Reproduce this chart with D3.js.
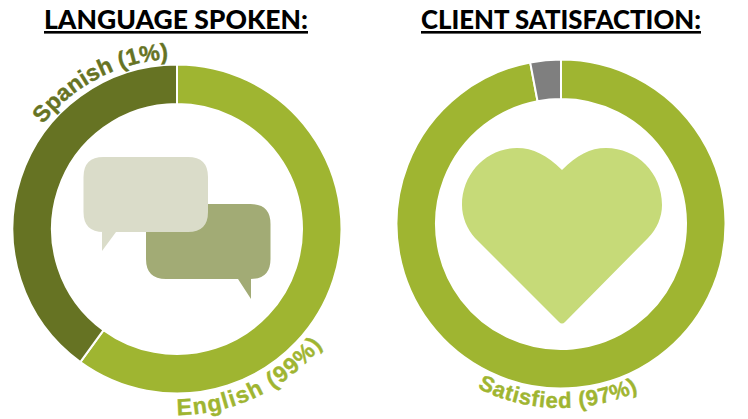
<!DOCTYPE html>
<html><head><meta charset="utf-8">
<script src="https://cdn.jsdelivr.net/npm/d3@7"></script>
<style>html,body{margin:0;padding:0;background:#fff}svg{display:block}</style>
</head><body><svg id="c" width="748" height="419"></svg>
<script>
const languageNames = ["English", "Spanish"];
const languageShares = [60, 40];
const languageLabels = ["English (99%)", "Spanish (1%)"];
const satisfactionNames = ["Satisfied", "Other"];
const satisfactionShares = [97, 3];
const satisfactionLabels = ["Satisfied (97%)"];
const titles = ["LANGUAGE SPOKEN:", "CLIENT SATISFACTION:"];
const languageColors = ["#9fb531", "#667323"];
const satisfactionColors = ["#9fb531", "#7f7f7f"];

const svg = d3.select("#c");
const defs = svg.append("defs");
const R = 164.5, r = 125;
const pie = d3.pie().sort(null).value(d => d);
const arc = d3.arc().innerRadius(r).outerRadius(R);

function donut(cx, cy, values, colors, names) {
  svg.append("g").attr("transform", `translate(${cx},${cy})`)
    .selectAll("path").data(pie(values)).join("path")
    .attr("d", arc).attr("fill", (d, i) => colors[i])
    .attr("stroke", "#fff").attr("stroke-width", 2)
    .append("title").text((d, i) => names[i]);
}
donut(177, 229, languageShares, languageColors, languageNames);
donut(561, 224, satisfactionShares, satisfactionColors, satisfactionNames);

function title(txt, x, w) {
  svg.append("text").attr("x", x).attr("y", 28.5).attr("textLength", w).attr("lengthAdjust", "spacingAndGlyphs")
    .attr("font-family", "Lato, sans-serif").attr("font-weight", 900).attr("font-size", 26.5).attr("fill", "#000").text(txt);
  svg.append("rect").attr("x", x).attr("y", 31).attr("width", w).attr("height", 2.6).attr("fill", "#000");
}
title(titles[0], 44, 264);
title(titles[1], 421, 280);

function curved(id, txt, cx, cy, rad, a0, a1, color, size, spacing) {
  const p = d3.path();
  const t = a => a - Math.PI / 2;
  const A0 = t(a0 * Math.PI / 180), A1 = t(a1 * Math.PI / 180);
  p.moveTo(cx + rad * Math.cos(A0), cy + rad * Math.sin(A0));
  p.arc(cx, cy, rad, A0, A1, a1 < a0);
  defs.append("path").attr("id", id).attr("d", p.toString());
  svg.append("text").attr("font-family", "'Liberation Sans', Arial, sans-serif").attr("font-weight", 700)
    .attr("font-size", size).attr("fill", color).attr("stroke", color).attr("stroke-width", 0.4).attr("letter-spacing", spacing)
    .append("textPath").attr("href", "#" + id).text(txt);
}
curved("p1", languageLabels[1], 177, 229, 170, -52, 8, "#667323", 23, 0.1);
curved("p2", languageLabels[0], 177, 229, 186, 180, 110, "#9fb531", 23, 1.3);
curved("p3", satisfactionLabels[0], 561, 224, 184, 207, 140, "#9fb531", 22, 0.7);

function bubble(x, y, w, h, rad, tail, fill) {
  const q = `M${x + rad},${y}H${x + w - rad}Q${x + w},${y} ${x + w},${y + rad}V${y + h - rad}Q${x + w},${y + h} ${x + w - rad},${y + h}`;
  const end = `H${x + rad}Q${x},${y + h} ${x},${y + h - rad}V${y + rad}Q${x},${y} ${x + rad},${y}Z`;
  svg.append("path").attr("d", q + tail + end).attr("fill", fill);
}
bubble(146, 204, 124.5, 75, 20, "H251V299L238,279", "#a2ab75");
bubble(83.5, 157, 124.5, 75, 20, "H116L102,251V232", "#dadcc9");

svg.append("path").attr("fill", "#c6da78")
  .attr("d", "M562,170C577,155 590,148 606,148C637,148 662,173 662,205C662,217 657,229 648,238L565,322Q562,325 559,322L475,238C467,229 462,217 462,205C462,173 487,148 517,148C533,148 547,155 562,170Z");
</script></body></html>
